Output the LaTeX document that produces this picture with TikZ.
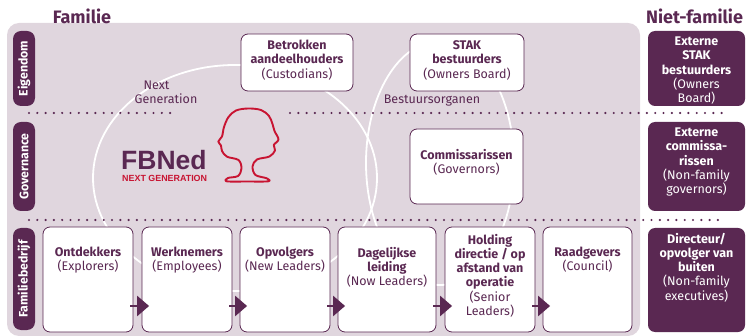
\documentclass[tikz,border=0pt]{standalone}
\usepackage{fontspec}
\setmainfont{Fira Sans}
\newfontfamily\logofont{Liberation Sans}
\usetikzlibrary{arrows.meta,calc}
\definecolor{fbpurple}{RGB}{90,40,82}
\definecolor{fbbg}{RGB}{224,214,222}
\definecolor{fbred}{RGB}{200,20,50}
\newcommand{\fbstrut}{\rule{0pt}{9.5pt}}
\begin{document}
\begin{tikzpicture}[x=1pt,y=-1pt,
  fbbox/.style={draw=fbpurple, line width=0.8pt, fill=white, rounded corners=7pt, inner sep=0pt},
  darkbox/.style={fill=fbpurple, rounded corners=7pt, inner sep=0pt},
  pillbox/.style={fill=fbpurple, rounded corners=8pt, inner sep=0pt, minimum width=22pt},
  boxtext/.style={text=fbpurple, align=center, font=\fontsize{12.5}{14.2}\selectfont, inner sep=0pt, anchor=north},
  darktext/.style={text=white, align=center, font=\fontsize{12.5}{14.2}\selectfont, inner sep=0pt, anchor=north},
  pilltext/.style={text=white, rotate=90, font=\bfseries\fontsize{12.3}{13}\selectfont, inner sep=0pt},
  titletext/.style={text=fbpurple, font=\bfseries\fontsize{18}{20}\selectfont, inner sep=0pt},
  plaintext/.style={text=fbpurple, align=center, font=\fontsize{12.5}{14.2}\selectfont, inner sep=0pt},
  dotline/.style={fbpurple, line width=2.4pt, line cap=round, dash pattern=on 0pt off 8.3pt},
  ringline/.style={white, line width=1.8pt},
  steparrow/.style={fbpurple, line width=2.3pt, -{Triangle[length=12pt,width=20pt]}}
]
\useasboundingbox (0,0) rectangle (746,336);
% background
\fill[fbbg, rounded corners=12pt] (7,23) rectangle (640,336);
% rings
\draw[ringline] (235,178) ellipse [x radius=142, y radius=113];
\draw[ringline] (440,163) ellipse [x radius=74, y radius=122];
% dotted separators
\draw[dotline] (29,113) -- (171,113);
\draw[dotline] (290,113) -- (726,113);
\draw[dotline] (29,220) -- (726,220);
% titles
\node[titletext, anchor=base] (famT) at (82,24) {Familie};
\node[titletext, anchor=base west] (nfamT) at (646,24) {Niet-familie};
% row pills
\node[pillbox, minimum height=75pt] (eig) at (24,68.5) {};
\node[pillbox, minimum height=89pt] (gov) at (24,166.5) {};
\node[pillbox, minimum height=102pt] (fam) at (24,279) {};
\node[pilltext] (eigT) at (eig.center) {Eigendom};
\node[pilltext] (govT) at (gov.center) {Governance};
\node[pilltext] (famT2) at (fam.center) {Familiebedrijf};
% ring labels
\node[plaintext, anchor=north] (ngT) at (166,80) {\fbstrut Next\hspace*{19pt}\\Generation};
\node[plaintext, anchor=base] (boT) at (432,103.5) {Bestuursorganen};
% logo
\node[text=fbpurple, font=\logofont\bfseries\fontsize{26.5}{28}\selectfont, anchor=base west, inner sep=0pt] (logo) at (121,170) {FBNed};
\node[text=fbred, font=\logofont\bfseries\fontsize{8.9}{10}\selectfont, anchor=base west, inner sep=0pt] (logosub) at (122,182) {NEXT GENERATION};
\draw[fbred, line width=1.9pt, line join=round] plot[smooth cycle, tension=0.55] coordinates {
  (248,108.5) (261,110) (269,116) (272.5,124) (274.5,131) (278.5,139.5) (273.8,145) (275,150.5) (269.5,156.5)
  (257,159.5) (252.5,166.5) (255.5,175) (266.7,178.3) (268.3,181.3) (247,181.5)
  (226.7,181.3) (228,178) (238,176) (241.5,168.3) (238.5,160) (227,156.7) (222,151) (221,145.5)
  (218.3,141.5) (222,136.5) (224,127) (228.5,117) (236,110.5)};
% white boxes top
\node[fbbox, minimum width=112pt, minimum height=57pt] (cust) at (297,62.5) {};
\node[fbbox, minimum width=114pt, minimum height=57pt] (stak) at (467,62.5) {};
\node[fbbox, minimum width=113pt, minimum height=75pt] (comm) at (466.5,166.5) {};
\node[boxtext] (custT) at (297,40) {\fbstrut\textbf{Betrokken}\\\textbf{aandeelhouders}\\(Custodians)};
\node[boxtext] (stakT) at (467,40) {\fbstrut\textbf{STAK}\\\textbf{bestuurders}\\(Owners Board)};
\node[boxtext] (commT) at (466.5,149) {\fbstrut\textbf{Commissarissen}\\(Governors)};
% bottom row
\node[fbbox, minimum width=90pt, minimum height=105pt] (ontd) at (88,279.5) {};
\node[fbbox, minimum width=90pt, minimum height=105pt] (werk) at (187,279.5) {};
\node[fbbox, minimum width=90pt, minimum height=105pt] (opvo) at (285,279.5) {};
\node[fbbox, minimum width=98pt, minimum height=105pt] (dage) at (387,279.5) {};
\node[fbbox, minimum width=90pt, minimum height=105pt] (hold) at (490,279.5) {};
\node[fbbox, minimum width=89pt, minimum height=105pt] (raad) at (587.5,279.5) {};
\node[boxtext] (ontdT) at (88,247) {\fbstrut\textbf{Ontdekkers}\\(Explorers)};
\node[boxtext] (werkT) at (187,247) {\fbstrut\textbf{Werknemers}\\(Employees)};
\node[boxtext] (opvoT) at (285,247) {\fbstrut\textbf{Opvolgers}\\(New Leaders)};
\node[boxtext] (dageT) at (387,247) {\fbstrut\textbf{Dagelijkse}\\\textbf{leiding}\\(Now Leaders)};
\node[boxtext] (holdT) at (490,234) {\fbstrut\textbf{Holding}\\\textbf{directie / op}\\\textbf{afstand van}\\\textbf{operatie}\\(Senior\\Leaders)};
\node[boxtext] (raadT) at (587.5,247) {\fbstrut\textbf{Raadgevers}\\(Council)};
% step arrows
\draw[steparrow] ($(ontd.east)+(-3,26.5)$) -- ($(werk.west)+(7.5,26.5)$);
\draw[steparrow] ($(werk.east)+(-3,26.5)$) -- ($(opvo.west)+(7.5,26.5)$);
\draw[steparrow] ($(opvo.east)+(-3,26.5)$) -- ($(dage.west)+(7.5,26.5)$);
\draw[steparrow] ($(dage.east)+(-3,26.5)$) -- ($(hold.west)+(7.5,26.5)$);
\draw[steparrow] ($(hold.east)+(-3,26.5)$) -- ($(raad.west)+(7.5,26.5)$);
% non-family boxes
\node[darkbox, minimum width=97pt, minimum height=75pt] (xstak) at (696.5,68.5) {};
\node[darkbox, minimum width=97pt, minimum height=89pt] (xcomm) at (696.5,166.5) {};
\node[darkbox, minimum width=97pt, minimum height=104pt] (xdir) at (696.5,280) {};
\node[darktext] (xstakT) at (696.5,36) {\fbstrut\textbf{Externe}\\\textbf{STAK}\\\textbf{bestuurders}\\(Owners\\Board)};
\node[darktext] (xcommT) at (696.5,127) {\fbstrut\textbf{Externe}\\\textbf{commissa-}\\\textbf{rissen}\\(Non-family\\governors)};
\node[darktext] (xdirT) at (696.5,233) {\fbstrut\textbf{Directeur/}\\\textbf{opvolger van}\\\textbf{buiten}\\(Non-family\\executives)};
\end{tikzpicture}
\end{document}
